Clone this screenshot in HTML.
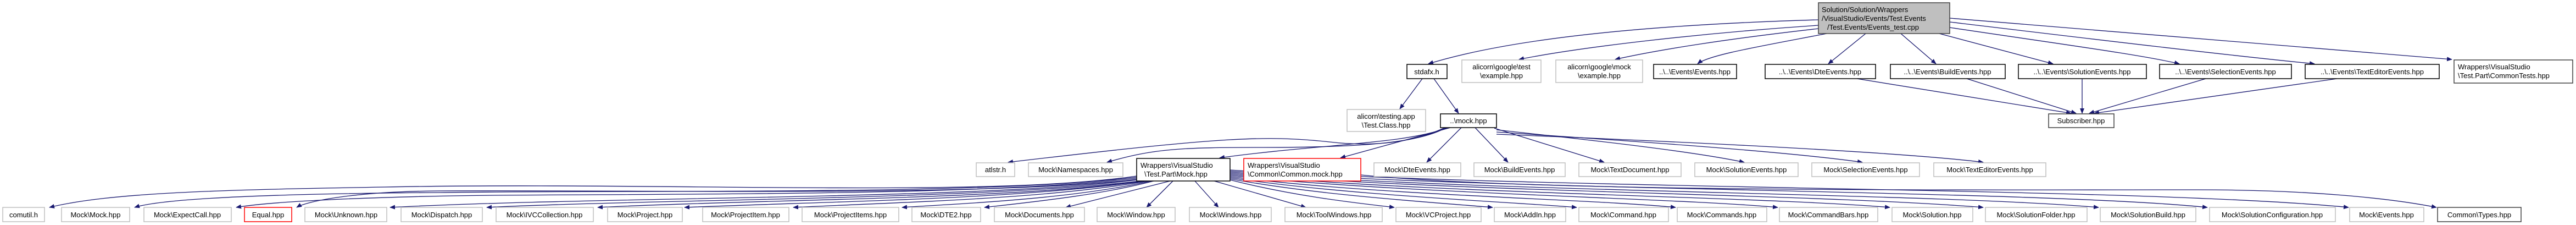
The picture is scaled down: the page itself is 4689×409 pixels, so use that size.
<!DOCTYPE html>
<html><head><meta charset="utf-8"><style>
html,body{margin:0;padding:0;background:#fff;width:4689px;height:409px;overflow:hidden}
svg text{font-family:"Liberation Sans",sans-serif;font-size:13px;fill:#000}
.e{fill:none;stroke:#191970;stroke-width:1.3}
</style></head><body>
<svg width="4689" height="409" viewBox="0 0 4689 409" xmlns="http://www.w3.org/2000/svg">
<defs><marker id="a" markerWidth="10" markerHeight="8" refX="9" refY="4" orient="auto" markerUnits="userSpaceOnUse"><path d="M0,0 L10,4 L0,8 Z" fill="#191970"/></marker></defs>
<g class="e" marker-end="url(#a)">
<!-- root edges -->
<path d="M3310,36 C3000,45 2750,70 2600,116"/>
<path d="M3310,46 C3100,60 2880,85 2765,108"/>
<path d="M3310,52 C3150,70 3020,90 2940,108"/>
<path d="M3325,61 C3200,85 3110,100 3090,116"/>
<path d="M3396,61 L3328,116"/>
<path d="M3460,61 L3524,116"/>
<path d="M3530,61 L3737,116"/>
<path d="M3549,50 C3750,80 3900,100 3967,116"/>
<path d="M3549,40 C3800,70 4050,100 4213,116"/>
<path d="M3549,33 C3900,60 4250,90 4463,108"/>
<!-- to subscriber -->
<path d="M3380,143 L3770,206"/>
<path d="M3580,143 L3779,206"/>
<path d="M3790,143 L3790,206"/>
<path d="M4015,143 L3803,206"/>
<path d="M4254,143 L3812,206"/>
<!-- stdafx -->
<path d="M2589,143 L2548,198"/>
<path d="M2610,143 L2655,206"/>
<!-- mock.hpp to row 4 -->
<path d="M2630,232 C2560,265 2480,265 2420,258 C2300,245 2220,250 1835,295"/>
<path d="M2632,232 C2580,262 2460,268 2300,268 C2150,268 2100,270 2015,295"/>
<path d="M2635,232 C2560,262 2400,262 2220,287"/>
<path d="M2640,232 L2440,287"/>
<path d="M2660,232 L2597,295"/>
<path d="M2685,232 L2745,295"/>
<path d="M2720,233 L2920,295"/>
<path d="M2724,236 C2900,255 3080,275 3175,295"/>
<path d="M2724,240 C2950,255 3250,275 3390,295"/>
<path d="M2724,244 C3000,255 3450,275 3610,295"/>
<!-- Mock.hpp to row 5 -->
<path d="M2069,320 C1800,360 1200,330 700,340 C400,345 200,350 90,377"/>
<path d="M2069,322 C1800,355 1200,345 800,350 C500,352 300,360 245,377"/>
<path d="M2069,324 C1800,355 1300,352 900,355 C700,357 500,365 430,377"/>
<path d="M2069,326 C1800,358 1200,345 800,347 C650,348 560,365 540,377"/>
<path d="M2069,327 C1800,362 1100,357 710,377"/>
<path d="M2075,329 C1800,362 1200,362 886,377"/>
<path d="M2080,329 C1850,362 1400,362 1088,377"/>
<path d="M2085,329 C1850,362 1550,365 1246,377"/>
<path d="M2090,329 C1900,362 1650,367 1444,377"/>
<path d="M2095,329 C1950,362 1750,370 1642,377"/>
<path d="M2100,329 C2000,355 1880,367 1792,377"/>
<path d="M2130,329 L1940,377"/>
<path d="M2135,329 L2087,377"/>
<path d="M2175,329 L2218,377"/>
<path d="M2210,329 L2377,377"/>
<path d="M2239,327 C2350,355 2450,367 2538,377"/>
<path d="M2239,325 C2400,355 2600,367 2717,377"/>
<path d="M2239,323 C2450,355 2750,367 2870,377"/>
<path d="M2239,321 C2500,355 2900,362 3050,377"/>
<path d="M2239,319 C2550,352 3050,360 3236,377"/>
<path d="M2239,317 C2600,352 3200,357 3440,377"/>
<path d="M2239,315 C2650,350 3300,352 3610,377"/>
<path d="M2239,313 C2700,350 3500,350 3820,377"/>
<path d="M2239,311 C2750,348 3700,345 4018,377"/>
<path d="M2239,309 C2800,345 3900,340 4275,377"/>
<path d="M2477,318 C2800,350 3600,345 4000,345 C4200,345 4350,360 4435,377"/>
</g>
<!-- nodes -->
<g fill="#fff" stroke="#bfbfbf" stroke-width="1.5">
<rect x="2661" y="109" width="144" height="41"/>
<rect x="2832" y="109" width="158" height="41"/>
<rect x="2452" y="199" width="143" height="40"/>
<rect x="1777" y="296" width="70" height="25"/>
<rect x="1872" y="296" width="172" height="25"/>
<rect x="2501" y="296" width="158" height="25"/>
<rect x="2683" y="296" width="166" height="25"/>
<rect x="2874" y="296" width="186" height="25"/>
<rect x="3085" y="296" width="188" height="25"/>
<rect x="3298" y="296" width="196" height="25"/>
<rect x="3520" y="296" width="204" height="25"/>
<rect x="5" y="377" width="76" height="26"/>
<rect x="112" y="377" width="124" height="26"/>
<rect x="262" y="377" width="159" height="26"/>
<rect x="555" y="377" width="149" height="26"/>
<rect x="730" y="377" width="148" height="26"/>
<rect x="903" y="377" width="177" height="26"/>
<rect x="1106" y="377" width="136" height="26"/>
<rect x="1279" y="377" width="157" height="26"/>
<rect x="1460" y="377" width="176" height="26"/>
<rect x="1660" y="377" width="125" height="26"/>
<rect x="1810" y="377" width="164" height="26"/>
<rect x="1997" y="377" width="142" height="26"/>
<rect x="2165" y="377" width="149" height="26"/>
<rect x="2339" y="377" width="177" height="26"/>
<rect x="2541" y="377" width="155" height="26"/>
<rect x="2720" y="377" width="130" height="26"/>
<rect x="2874" y="377" width="163" height="26"/>
<rect x="3053" y="377" width="163" height="26"/>
<rect x="3239" y="377" width="179" height="26"/>
<rect x="3444" y="377" width="147" height="26"/>
<rect x="3614" y="377" width="185" height="26"/>
<rect x="3823" y="377" width="174" height="26"/>
<rect x="4022" y="377" width="229" height="26"/>
<rect x="4277" y="377" width="135" height="26"/>
</g>
<g fill="#fff" stroke="#000" stroke-width="1.5">
<rect x="2561" y="117" width="73" height="26"/>
<rect x="3010" y="117" width="151" height="26"/>
<rect x="3213" y="117" width="201" height="26"/>
<rect x="3441" y="117" width="209" height="26"/>
<rect x="3674" y="117" width="233" height="26"/>
<rect x="3931" y="117" width="240" height="26"/>
<rect x="4196" y="117" width="244" height="26"/>
<rect x="4467" y="109" width="216" height="42" stroke="#404040"/>
<rect x="3729" y="207" width="119" height="25" stroke="#404040"/>
<rect x="2622" y="207" width="102" height="25"/>
<rect x="2069" y="288" width="170" height="41"/>
<rect x="4437" y="377" width="152" height="26" stroke="#404040"/>
</g>
<rect x="2264" y="288" width="213" height="41" fill="#fff" stroke="#ff0000" stroke-width="1.5"/>
<rect x="445" y="377" width="86" height="26" fill="#fff" stroke="#ff0000" stroke-width="1.5"/>
<rect x="3310" y="5" width="239" height="56" fill="#bfbfbf" stroke="#404040" stroke-width="1.5"/>
<!-- texts -->
<g text-anchor="middle">
<text x="2597" y="135">stdafx.h</text>
<text x="2733" y="126">alicorn\google\test</text><text x="2733" y="142">\example.hpp</text>
<text x="2911" y="126">alicorn\google\mock</text><text x="2911" y="142">\example.hpp</text>
<text x="3085" y="135">..\..\Events\Events.hpp</text>
<text x="3313" y="135">..\..\Events\DteEvents.hpp</text>
<text x="3545" y="135">..\..\Events\BuildEvents.hpp</text>
<text x="3790" y="135">..\..\Events\SolutionEvents.hpp</text>
<text x="4051" y="135">..\..\Events\SelectionEvents.hpp</text>
<text x="4318" y="135">..\..\Events\TextEditorEvents.hpp</text>
<text x="3788" y="224">Subscriber.hpp</text>
<text x="2523" y="216">alicorn\testing.app</text><text x="2523" y="232">\Test.Class.hpp</text>
<text x="2673" y="224">..\mock.hpp</text>
<text x="1812" y="313">atlstr.h</text>
<text x="1958" y="313">Mock\Namespaces.hpp</text>
<text x="2580" y="313">Mock\DteEvents.hpp</text>
<text x="2766" y="313">Mock\BuildEvents.hpp</text>
<text x="2967" y="313">Mock\TextDocument.hpp</text>
<text x="3179" y="313">Mock\SolutionEvents.hpp</text>
<text x="3396" y="313">Mock\SelectionEvents.hpp</text>
<text x="3622" y="313">Mock\TextEditorEvents.hpp</text>
<text x="43" y="395">comutil.h</text>
<text x="174" y="395">Mock\Mock.hpp</text>
<text x="341" y="395">Mock\ExpectCall.hpp</text>
<text x="488" y="395">Equal.hpp</text>
<text x="630" y="395">Mock\Unknown.hpp</text>
<text x="804" y="395">Mock\Dispatch.hpp</text>
<text x="991" y="395">Mock\IVCCollection.hpp</text>
<text x="1174" y="395">Mock\Project.hpp</text>
<text x="1357" y="395">Mock\ProjectItem.hpp</text>
<text x="1548" y="395">Mock\ProjectItems.hpp</text>
<text x="1722" y="395">Mock\DTE2.hpp</text>
<text x="1892" y="395">Mock\Documents.hpp</text>
<text x="2068" y="395">Mock\Window.hpp</text>
<text x="2240" y="395">Mock\Windows.hpp</text>
<text x="2428" y="395">Mock\ToolWindows.hpp</text>
<text x="2618" y="395">Mock\VCProject.hpp</text>
<text x="2785" y="395">Mock\AddIn.hpp</text>
<text x="2955" y="395">Mock\Command.hpp</text>
<text x="3134" y="395">Mock\Commands.hpp</text>
<text x="3328" y="395">Mock\CommandBars.hpp</text>
<text x="3517" y="395">Mock\Solution.hpp</text>
<text x="3706" y="395">Mock\SolutionFolder.hpp</text>
<text x="3910" y="395">Mock\SolutionBuild.hpp</text>
<text x="4136" y="395">Mock\SolutionConfiguration.hpp</text>
<text x="4344" y="395">Mock\Events.hpp</text>
<text x="4513" y="395">Common\Types.hpp</text>
</g>
<text x="3316" y="22">Solution/Solution/Wrappers</text>
<text x="3316" y="38">/VisualStudio/Events/Test.Events</text>
<text x="3326" y="54">/Test.Events/Events_test.cpp</text>
<text x="4474" y="126">Wrappers\VisualStudio</text>
<text x="4474" y="142">\Test.Part\CommonTests.hpp</text>
<text x="2076" y="305">Wrappers\VisualStudio</text>
<text x="2083" y="321">\Test.Part\Mock.hpp</text>
<text x="2271" y="305">Wrappers\VisualStudio</text>
<text x="2271" y="321">\Common\Common.mock.hpp</text>
</svg>
</body></html>
